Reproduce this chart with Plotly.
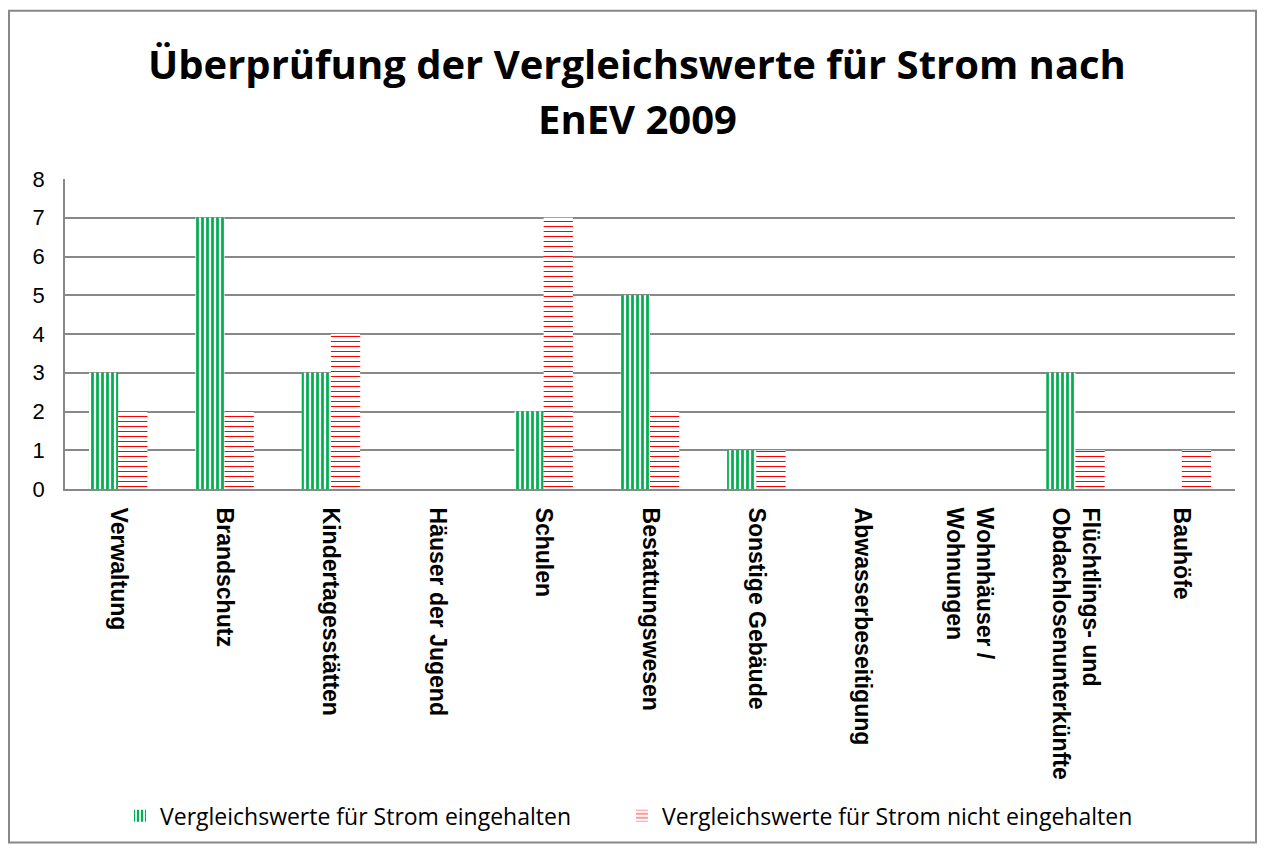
import plotly.graph_objects as go

categories = ["Verwaltung", "Brandschutz", "Kindertagesstätten", "Häuser der Jugend", "Schulen",
              "Bestattungswesen", "Sonstige Gebäude", "Abwasserbeseitigung",
              "Wohnhäuser /<br>Wohnungen", "Flüchtlings- und<br>Obdachlosenunterkünfte", "Bauhöfe"]
eingehalten = [3, 7, 3, 0, 2, 5, 1, 0, 0, 3, 0]
nicht_eingehalten = [2, 2, 4, 0, 7, 2, 1, 0, 0, 1, 1]
series_names = ["Vergleichswerte für Strom eingehalten", "Vergleichswerte für Strom nicht eingehalten"]
title_lines = ["Überprüfung der Vergleichswerte für Strom nach", "EnEV 2009"]
y_ticks = [0, 1, 2, 3, 4, 5, 6, 7, 8]

# figure is placed by the page at (8, 8)
W, H = 1249, 842
L, T = 57, 171
R = W - 1227
B = H - 484
pw, ph = W - L - R, H - T - B

def px2paper_x(px):
    return (px - L) / pw

def px2paper_y(py):
    return (H - B - py) / ph

fig = go.Figure()
fig.add_trace(go.Bar(
    x=categories, y=eingehalten, name=series_names[0], legend="legend",
    marker=dict(color="white", line=dict(width=0),
                pattern=dict(shape="|", fgcolor="#00B050", bgcolor="white",
                             size=5, solidity=0.55, fillmode="replace")),
))
fig.add_trace(go.Bar(
    x=categories, y=nicht_eingehalten, name=series_names[1], legend="legend2",
    marker=dict(color="white", line=dict(width=0),
                pattern=dict(shape="-", fgcolor="#FF0000", bgcolor="white",
                             size=5, solidity=0.2, fillmode="replace")),
))

fig.add_shape(type="rect", xref="paper", yref="paper",
              x0=px2paper_x(1), x1=px2paper_x(W - 1), y0=px2paper_y(H - 1), y1=px2paper_y(1),
              line=dict(color="#888888", width=2), fillcolor="rgba(0,0,0,0)", layer="below")

for line, py in zip(title_lines, [54, 110]):
    fig.add_annotation(text=line, xref="paper", yref="paper",
                       x=px2paper_x(629), y=px2paper_y(py), xanchor="center", yanchor="middle",
                       showarrow=False,
                       font=dict(family="Open Sans", size=40, color="black", weight="bold"))

legend_common = dict(orientation="h", xanchor="left", yanchor="middle",
                     y=px2paper_y(814),
                     font=dict(family="Open Sans", size=23, color="black"),
                     itemwidth=30, bgcolor="rgba(0,0,0,0)")

fig.update_layout(
    width=W, height=H,
    margin=dict(l=L, r=R, t=T, b=B),
    paper_bgcolor="white", plot_bgcolor="white",
    barmode="group", bargap=0.45, bargroupgap=0,
    font=dict(family="Liberation Sans", color="black"),
    legend=dict(x=px2paper_x(112), **legend_common),
    legend2=dict(x=px2paper_x(614), **legend_common),
    showlegend=True,
)
fig.update_xaxes(
    tickangle=90, showline=True, linecolor="#888888", linewidth=2,
    showgrid=False, ticks="", ticklabelstandoff=12,
    tickfont=dict(family="Liberation Sans", size=23, color="black", weight="bold"),
)
fig.update_yaxes(
    range=[0, 8], tickvals=y_ticks, showline=True, linecolor="#888888", linewidth=1.5,
    showgrid=True, gridcolor="#888888", gridwidth=1.5, zeroline=False, ticks="",
    ticklabelstandoff=14,
    tickfont=dict(family="Liberation Sans", size=22, color="black"),
)

fig.write_html("out.html")
